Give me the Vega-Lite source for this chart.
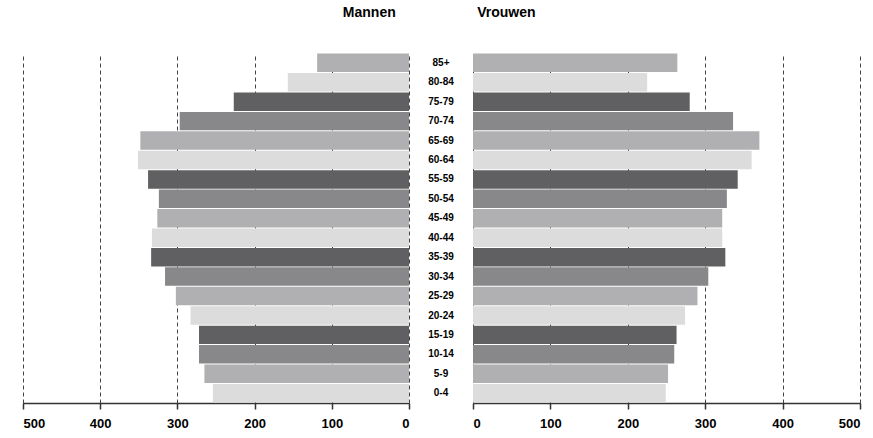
{
  "$schema": "https://vega.github.io/schema/vega-lite/v6.json",
  "padding": {"left": 22, "top": 6, "right": 5, "bottom": 5},
  "background": "white",
  "config": {
    "view": {"stroke": null},
    "font": "Liberation Sans, Arial, sans-serif",
    "concat": {"spacing": 0},
    "axis": {
      "domainColor": "#333333",
      "domainWidth": 1.5,
      "tickColor": "#333333",
      "tickWidth": 1.5,
      "tickSize": 6,
      "labelFontSize": 13,
      "labelFontWeight": "bold",
      "labelColor": "#000000",
      "labelPadding": 8,
      "grid": true,
      "gridDash": [4, 3],
      "gridColor": "#444444",
      "gridWidth": 1,
      "gridOpacity": 1
    },
    "title": {"fontSize": 14, "fontWeight": "bold", "color": "#000000", "offset": 33}
  },
  "data": {
    "values": [
      {"age": "85+", "sex": "Mannen", "value": 119}, {"age": "80-84", "sex": "Mannen", "value": 157},
      {"age": "75-79", "sex": "Mannen", "value": 227}, {"age": "70-74", "sex": "Mannen", "value": 297},
      {"age": "65-69", "sex": "Mannen", "value": 348}, {"age": "60-64", "sex": "Mannen", "value": 351},
      {"age": "55-59", "sex": "Mannen", "value": 338}, {"age": "50-54", "sex": "Mannen", "value": 324},
      {"age": "45-49", "sex": "Mannen", "value": 326}, {"age": "40-44", "sex": "Mannen", "value": 333},
      {"age": "35-39", "sex": "Mannen", "value": 334}, {"age": "30-34", "sex": "Mannen", "value": 316},
      {"age": "25-29", "sex": "Mannen", "value": 302}, {"age": "20-24", "sex": "Mannen", "value": 283},
      {"age": "15-19", "sex": "Mannen", "value": 272}, {"age": "10-14", "sex": "Mannen", "value": 272},
      {"age": "5-9", "sex": "Mannen", "value": 265}, {"age": "0-4", "sex": "Mannen", "value": 254},
      {"age": "85+", "sex": "Vrouwen", "value": 264}, {"age": "80-84", "sex": "Vrouwen", "value": 225},
      {"age": "75-79", "sex": "Vrouwen", "value": 280}, {"age": "70-74", "sex": "Vrouwen", "value": 336},
      {"age": "65-69", "sex": "Vrouwen", "value": 370}, {"age": "60-64", "sex": "Vrouwen", "value": 360},
      {"age": "55-59", "sex": "Vrouwen", "value": 342}, {"age": "50-54", "sex": "Vrouwen", "value": 328},
      {"age": "45-49", "sex": "Vrouwen", "value": 322}, {"age": "40-44", "sex": "Vrouwen", "value": 322},
      {"age": "35-39", "sex": "Vrouwen", "value": 326}, {"age": "30-34", "sex": "Vrouwen", "value": 304},
      {"age": "25-29", "sex": "Vrouwen", "value": 290}, {"age": "20-24", "sex": "Vrouwen", "value": 274},
      {"age": "15-19", "sex": "Vrouwen", "value": 263}, {"age": "10-14", "sex": "Vrouwen", "value": 260},
      {"age": "5-9", "sex": "Vrouwen", "value": 252}, {"age": "0-4", "sex": "Vrouwen", "value": 249}
    ]
  },
  "hconcat": [
    {
      "title": {"text": "Mannen", "anchor": "end", "dx": -14},
      "width": 386,
      "height": 350,
      "transform": [{"filter": "datum.sex === 'Mannen'"}],
      "mark": {"type": "bar"},
      "encoding": {
        "y": {"field": "age", "type": "nominal", "axis": null,
          "sort": ["85+","80-84","75-79","70-74","65-69","60-64","55-59","50-54","45-49","40-44","35-39","30-34","25-29","20-24","15-19","10-14","5-9","0-4"],
          "scale": {"paddingInner": 0.05, "paddingOuter": 0.03}},
        "x": {"field": "value", "type": "quantitative", "scale": {"domain": [0, 500], "reverse": true, "nice": false},
          "axis": {"values": [0, 100, 200, 300, 400, 500], "title": null}},
        "color": {"field": "age", "type": "nominal", "legend": null,
          "scale": {"domain": ["85+","80-84","75-79","70-74","65-69","60-64","55-59","50-54","45-49","40-44","35-39","30-34","25-29","20-24","15-19","10-14","5-9","0-4"],
            "range": ["#b0b0b2","#dcdcdc","#606062","#88888a","#b0b0b2","#dcdcdc","#606062","#88888a","#b0b0b2","#dcdcdc","#606062","#88888a","#b0b0b2","#dcdcdc","#606062","#88888a","#b0b0b2","#dcdcdc"]}}
      }
    },
    {
      "title": {"text": " "},
      "width": 62,
      "height": 350,
      "transform": [{"filter": "datum.sex === 'Mannen'"}],
      "mark": {"type": "text", "fontWeight": "bold", "fontSize": 10, "color": "#000000"},
      "encoding": {
        "y": {"field": "age", "type": "nominal", "axis": null,
          "sort": ["85+","80-84","75-79","70-74","65-69","60-64","55-59","50-54","45-49","40-44","35-39","30-34","25-29","20-24","15-19","10-14","5-9","0-4"],
          "scale": {"paddingInner": 0.05, "paddingOuter": 0.03}},
        "text": {"field": "age", "type": "nominal"}
      }
    },
    {
      "title": {"text": "Vrouwen", "anchor": "start", "dx": 5},
      "width": 387,
      "height": 350,
      "transform": [{"filter": "datum.sex === 'Vrouwen'"}],
      "mark": {"type": "bar"},
      "encoding": {
        "y": {"field": "age", "type": "nominal", "axis": null,
          "sort": ["85+","80-84","75-79","70-74","65-69","60-64","55-59","50-54","45-49","40-44","35-39","30-34","25-29","20-24","15-19","10-14","5-9","0-4"],
          "scale": {"paddingInner": 0.05, "paddingOuter": 0.03}},
        "x": {"field": "value", "type": "quantitative", "scale": {"domain": [0, 500], "nice": false},
          "axis": {"values": [0, 100, 200, 300, 400, 500], "title": null}},
        "color": {"field": "age", "type": "nominal", "legend": null,
          "scale": {"domain": ["85+","80-84","75-79","70-74","65-69","60-64","55-59","50-54","45-49","40-44","35-39","30-34","25-29","20-24","15-19","10-14","5-9","0-4"],
            "range": ["#b0b0b2","#dcdcdc","#606062","#88888a","#b0b0b2","#dcdcdc","#606062","#88888a","#b0b0b2","#dcdcdc","#606062","#88888a","#b0b0b2","#dcdcdc","#606062","#88888a","#b0b0b2","#dcdcdc"]}}
      }
    }
  ]
}
